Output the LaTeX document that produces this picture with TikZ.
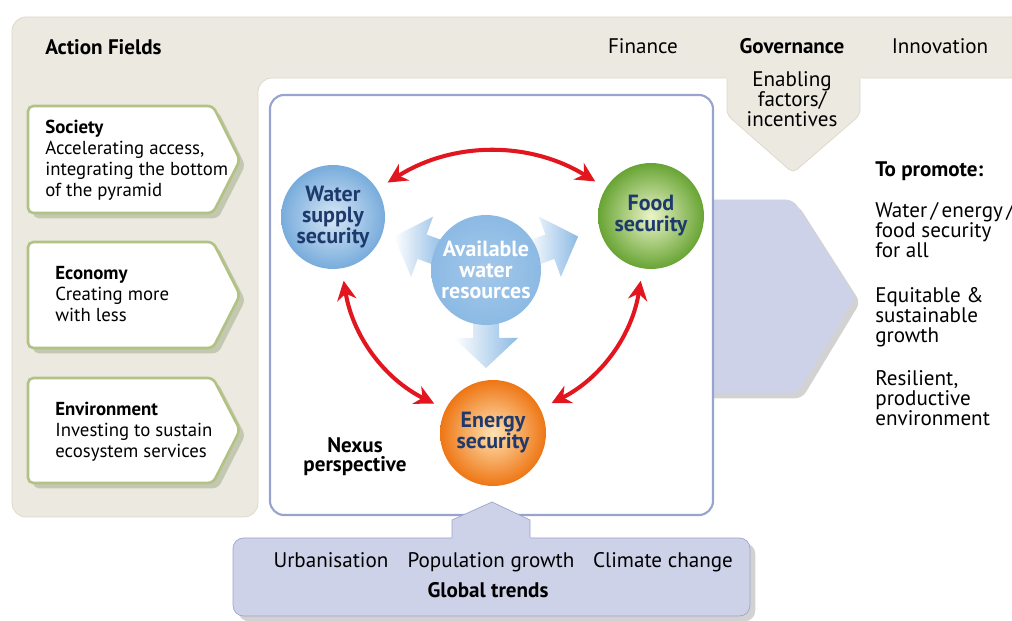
\documentclass[tikz,border=0pt]{standalone}
\usepackage{fontspec}
\setmainfont{PT Sans}
\usetikzlibrary{arrows.meta,shadows}

\definecolor{panel}{RGB}{236,233,225}
\definecolor{panelline}{RGB}{221,215,200}
\definecolor{trend}{RGB}{206,210,233}
\definecolor{trendline}{RGB}{158,164,203}
\definecolor{fieldline}{RGB}{178,194,132}
\definecolor{fieldshade}{RGB}{150,160,120}
\definecolor{nexusline}{RGB}{152,164,206}
\definecolor{navy}{RGB}{30,58,108}
\definecolor{linkred}{RGB}{225,22,30}
\definecolor{waterblue}{RGB}{120,172,220}
\definecolor{flowblue}{RGB}{140,186,228}
\definecolor{foodgreen}{RGB}{104,164,52}
\definecolor{foodlight}{RGB}{236,244,200}
\definecolor{energyorange}{RGB}{238,118,20}
\definecolor{energylight}{RGB}{255,226,180}

\begin{document}
\begin{tikzpicture}[x=0.02cm,y=-0.02cm,
  txt/.style={inner sep=0pt,font=\fontsize{12}{11.6}\selectfont},
  small/.style={inner sep=0pt,font=\fontsize{10.7}{12}\selectfont},
  field/.style={fill=white,draw=fieldline,line width=1.5pt,rounded corners=3pt,
    drop shadow={shadow xshift=3pt,shadow yshift=-3pt,fill=fieldshade,opacity=.45}},
  ball/.style={circle,inner sep=0pt,align=center,text=navy,
    font=\bfseries\fontsize{12.5}{12}\selectfont},
  twoway/.style={linkred,line width=2.3pt,
    {Stealth[length=11pt,width=11pt]}-{Stealth[length=11pt,width=11pt]},
    shorten <=7pt,shorten >=7pt},
  flow/.style={left color=white,right color=flowblue}
]

\useasboundingbox (0,0) rectangle (1012,621);
\clip (0,0) rectangle (1012,621);

% action fields panel
\draw[panelline,fill=panel,rounded corners=8pt] (12,17) -- (1040,17) -- (1040,78) -- (258,78) -- (258,517) -- (12,517) -- cycle;
\fill[panel,rounded corners=3pt] (727,70) -- (727,115) -- (793,173) -- (860,115) -- (860,70) -- cycle;
\draw[panelline,rounded corners=3pt] (727,79) -- (727,115) -- (793,173) -- (860,115) -- (860,79);

% the three fields
\draw[field] (28,106) -- (213,106) -- (240,160) -- (213,213) -- (28,213) -- cycle;
\draw[field] (28,242) -- (213,242) -- (240,295) -- (213,348) -- (28,348) -- cycle;
\draw[field] (28,378) -- (213,378) -- (240,430) -- (213,483) -- (28,483) -- cycle;

% outcome arrow
\draw[trend,fill=trend,rounded corners=4pt,
  drop shadow={shadow xshift=3pt,shadow yshift=-3pt,fill=black!35,opacity=.5}]
  (700,200) -- (793,200) -- (855,297) -- (797,393) -- (700,393) -- cycle;

% nexus
\draw[nexusline,fill=white,line width=1.2pt,rounded corners=8pt] (270,95) rectangle (713,515);

\coordinate (source) at (486,270);
\foreach \ang in {160,20,-90}
  \shade[flow,shift={(source)},rotate=\ang] (98,0) -- (68,-32) -- (68,-13) -- (48,-13) -- (48,13) -- (68,13) -- (68,32) -- cycle;

\node[ball,minimum size=2.2cm,inner color=flowblue!80!white,outer color=flowblue,text=white] (avail) at (source) {Available\\water\\resources};
\node[ball,minimum size=2.08cm,inner color=waterblue!30!white,outer color=waterblue] (water) at (333,217) {Water\\supply\\security};
\node[ball,minimum size=2.12cm,inner color=foodlight,outer color=foodgreen] (food) at (651,216) {Food\\security};
\node[ball,minimum size=2.12cm,inner color=energylight,outer color=energyorange] (energy) at (493,433) {Energy\\security};

\draw[twoway] (water) to[bend left=32] (food);
\draw[twoway] (water) to[bend right=27] (energy);
\draw[twoway] (food) to[bend left=27] (energy);

\node[txt,anchor=base,align=center,font=\bfseries\fontsize{12}{11}\selectfont] (nexus) at (355,472) {Nexus\\perspective};

% global trends
\draw[trendline,fill=trend,rounded corners=6pt,
  drop shadow={shadow xshift=3pt,shadow yshift=-3pt,fill=black!35,opacity=.5}]
  (233,538) rectangle (750,616);
\fill[trend] (452,541) -- (452,520) -- (492,502) -- (530,520) -- (530,541) -- cycle;
\draw[trendline] (452,538) -- (452,520) -- (492,502) -- (530,520) -- (530,538);

\node[txt,anchor=base] (urban) at (331,568) {Urbanisation};
\node[txt,anchor=base] (population) at (491,568) {Population growth};
\node[txt,anchor=base] (climate) at (663,568) {Climate change};
\node[txt,anchor=base] (trends) at (488,598) {\bfseries Global trends};

% panel texts
\node[txt,anchor=base west] (fields) at (45,55) {\bfseries Action Fields};
\node[txt,anchor=base] (finance) at (643,54) {Finance};
\node[txt,anchor=base] (governance) at (792,54) {\bfseries Governance};
\node[txt,anchor=base] (innovation) at (940,54) {Innovation};
\node[txt,anchor=base,align=center] (enabling) at (792,127) {Enabling\\factors/\\incentives};

\node[small,anchor=base west,align=left] (society) at (45,197) {\bfseries Society\\Accelerating access,\\integrating the bottom\\of the pyramid};
\node[small,anchor=base west,align=left] (economy) at (55,322) {\bfseries Economy\\Creating more\\with less};
\node[small,anchor=base west,align=left] (environment) at (55,458) {\bfseries Environment\\Investing to sustain\\ecosystem services};

% outcomes
\node[txt,anchor=base west] (promote) at (875,177) {\bfseries To promote:};
\node[txt,anchor=base west,align=left] (goalone) at (875,258) {Water\,/\,energy\,/\\food security\\for all};
\node[txt,anchor=base west,align=left] (goaltwo) at (875,343) {Equitable \&\\sustainable\\growth};
\node[txt,anchor=base west,align=left] (goalthree) at (875,426) {Resilient,\\productive\\environment};

\end{tikzpicture}
\end{document}
